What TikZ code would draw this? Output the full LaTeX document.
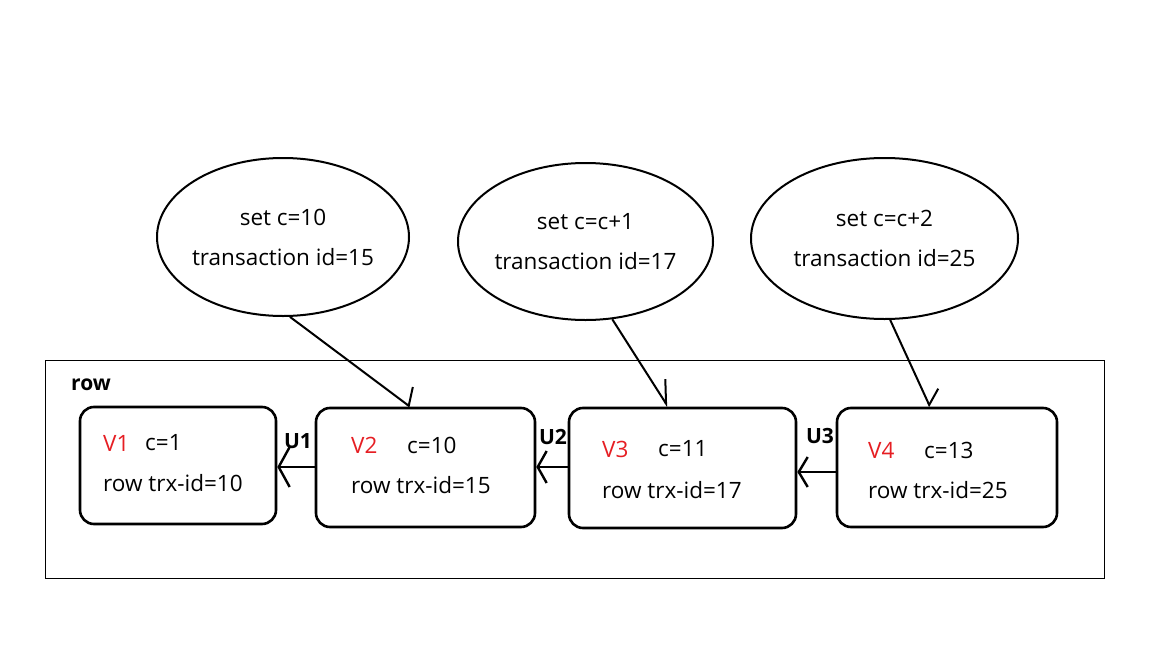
\documentclass[tikz,border=0pt]{standalone}
\usepackage{fontspec}
\setmainfont{Open Sans}
\usetikzlibrary{arrows.meta,shapes.geometric}
\definecolor{vred}{RGB}{230,30,35}
\tikzset{
  vbox/.style={draw=black, line width=2.6pt, rounded corners=14pt, rectangle, inner sep=0pt},
  bubble/.style={draw=black, line width=2pt, ellipse, inner sep=-12pt, align=center, font=\fontsize{22.5}{40}\selectfont},
  txt/.style={anchor=west, inner sep=0pt, font=\fontsize{22.5}{26}\selectfont},
  ulabel/.style={inner sep=0pt, font=\fontsize{21}{24}\selectfont\bfseries},
  barb/.style={line width=2pt},
}
\begin{document}
\begin{tikzpicture}[x=1pt,y=-1pt]
\useasboundingbox[fill=white] (0,0) rectangle (1152,648);
% outer frame
\node[draw=black, line width=0.9pt, rectangle, minimum width=1059pt, minimum height=218pt, inner sep=0pt] (frame) at (574.5,469) {};
\node[ulabel, anchor=west] (rowlbl) at (71,385) {row};
% version boxes
\node[vbox, minimum width=196pt, minimum height=117pt] (v1) at (178,465.5) {};
\node[vbox, minimum width=219pt, minimum height=119pt] (v2) at (425.5,467.5) {};
\node[vbox, minimum width=227pt, minimum height=120pt] (v3) at (682.5,468) {};
\node[vbox, minimum width=220pt, minimum height=119pt] (v4) at (947,467.5) {};
% texts in boxes
\node[txt, text=vred] (v1n) at (103,443) {V1};
\node[txt] (v1c) at (145,443) {c=1};
\node[txt] (v1r) at (103,483) {row trx-id=10};
\node[txt, text=vred] (v2n) at (351,445) {V2};
\node[txt] (v2c) at (407,445) {c=10};
\node[txt] (v2r) at (351,485) {row trx-id=15};
\node[txt, text=vred] (v3n) at (602,449) {V3};
\node[txt] (v3c) at (658,449) {c=11};
\node[txt] (v3r) at (602,490) {row trx-id=17};
\node[txt, text=vred] (v4n) at (868,450) {V4};
\node[txt] (v4c) at (924,450) {c=13};
\node[txt] (v4r) at (868,490) {row trx-id=25};
% undo arrows
\draw[line width=2.6pt, -{Straight Barb[length=11pt,width=40pt,line width=2.4pt]}] (v2.west |- 0,467) -- (v1.east |- 0,467);
\draw[line width=2.6pt, -{Straight Barb[length=9pt,width=32pt,line width=2.4pt]}] (v3.west |- 0,467) -- (v2.east |- 0,467);
\draw[line width=2.6pt, -{Straight Barb[length=9pt,width=30pt,line width=2.4pt]}] (v4.west |- 0,472) -- (v3.east |- 0,472);
\node[ulabel] (u1) at (298,441) {U1};
\node[ulabel] (u2) at (553,437) {U2};
\node[ulabel] (u3) at (820,436) {U3};
% transactions
\node[bubble, minimum width=252pt, minimum height=158pt] (e1) at (283,237) {set c=10\\ transaction id=15};
\node[bubble, minimum width=255pt, minimum height=157pt] (e2) at (585.5,241.5) {set c=c+1\\ transaction id=17};
\node[bubble, minimum width=267pt, minimum height=161pt] (e3) at (884.5,238.5) {set c=c+2\\ transaction id=25};
% connectors
\draw[barb, -{Straight Barb[harpoon,length=8pt,width=35pt,line width=2pt]}] (e1.-85) -- (410,0 |- v2.north);
\draw[barb, -{Straight Barb[harpoon,length=21pt,width=25pt,line width=2pt]}] (e2.-71) -- (668,0 |- v3.north);
\draw[barb, -{Straight Barb[harpoon,length=11pt,width=30pt,line width=2pt]}] (e3.-86) -- (930,0 |- v4.north);
\end{tikzpicture}
\end{document}
